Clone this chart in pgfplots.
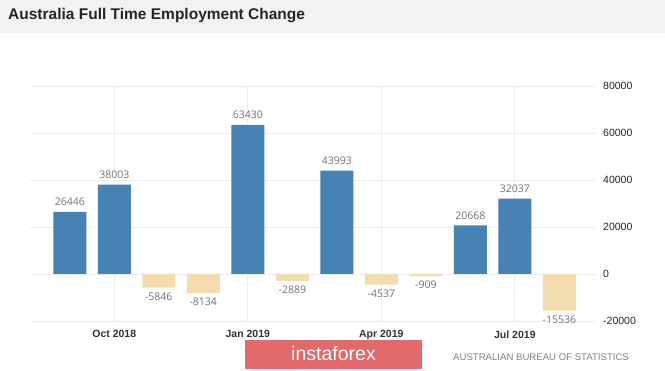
\documentclass[border=0pt]{standalone}
\usepackage{pgfplots}
\pgfplotsset{compat=1.18}
\usepackage{fontspec}
\setmainfont{Liberation Sans}
\newfontfamily\labfont{Open Sans}
\definecolor{posbar}{HTML}{4682B4}
\definecolor{negbar}{HTML}{F3DCAD}
\definecolor{gridc}{HTML}{EDEDED}
\definecolor{hdr}{HTML}{F2F2F2}
\definecolor{logo}{HTML}{E26A6A}
\begin{document}
\begin{tikzpicture}
\path[use as bounding box] (0pt,0pt) rectangle (665pt,371pt);
\fill[white] (0pt,0pt) rectangle (665pt,371pt);
\fill[hdr] (0pt,338pt) rectangle (665pt,371pt);
\node[anchor=west, inner sep=0pt, font=\fontsize{15.5}{17}\selectfont\bfseries, text=black!85] at (8pt,355pt) {Australia Full Time Employment Change};
\begin{axis}[
  at={(29.7pt,50pt)}, anchor=south west,
  scale only axis, width=565.3pt, height=235pt,
  xmin=-0.9, xmax=11.8, ymin=-20000, ymax=80000,
  axis line style={draw=none},
  major tick style={draw=none},
  xtick={1,4,7,10},
  xticklabels={Oct 2018,Jan 2019,Apr 2019,Jul 2019},
  ytick={-20000,0,20000,40000,60000,80000},
  yticklabel pos=right,
  xmajorgrids, ymajorgrids,
  grid style={gridc, line width=0.8pt},
  /pgf/number format/assume math mode=true,
  /pgf/number format/1000 sep={},
  scaled y ticks=false,
  yticklabel style={anchor=west, inner sep=0pt, xshift=8pt, font=\fontsize{10.5}{12}\selectfont, text=black!85},
  xticklabel style={anchor=north, inner sep=0pt, yshift=-5pt, font=\fontsize{10.5}{12}\selectfont\bfseries, text=black!80},
  ybar, bar width=33pt,
  nodes near coords={\pgfmathprintnumber[assume math mode=true,1000 sep={}]{\pgfplotspointmeta}},
  every node near coord/.append style={font=\labfont\fontsize{10.5}{12}\selectfont, text=black!55, inner sep=0pt},
  clip=false,
]
\addplot[fill=posbar, draw=none, bar shift=0pt,
  every node near coord/.append style={yshift=6pt}] coordinates {
  (0,26446) (1,38003) (4,63430) (6,43993) (9,20668) (10,32037)};
\addplot[fill=negbar, draw=none, bar shift=0pt,
  every node near coord/.append style={yshift=-5pt}] coordinates {
  (2,-5846) (3,-8134) (5,-2889) (7,-4537) (8,-909) (11,-15536)};
\end{axis}
\fill[logo] (245pt,2pt) rectangle (422pt,31pt);
\node[text=white, font=\fontsize{19.5}{22}\selectfont] at (333.5pt,17pt) {instaforex};
\node[anchor=west, inner sep=0pt, text=black!50, font=\fontsize{9.6}{11}\selectfont] at (453pt,14pt) {AUSTRALIAN BUREAU OF STATISTICS};
\end{tikzpicture}
\end{document}
